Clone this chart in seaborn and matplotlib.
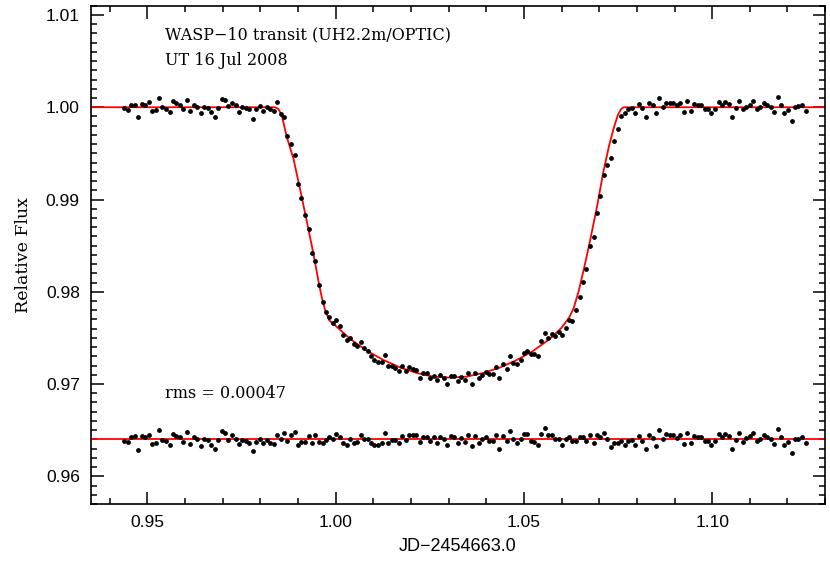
import numpy as np
import pandas as pd
import matplotlib
matplotlib.use("Agg")
import matplotlib.pyplot as plt
import seaborn as sns
from matplotlib.ticker import MultipleLocator, FormatStrFormatter

# observation times (JD - 2454663.0)
times = [
    0.9439, 0.9448, 0.9457, 0.9466, 0.9475, 0.9485, 0.9494, 0.9503, 0.9512, 0.9522,
    0.9531, 0.9540, 0.9549, 0.9559, 0.9568, 0.9577, 0.9586, 0.9595, 0.9605, 0.9614,
    0.9623, 0.9632, 0.9642, 0.9651, 0.9660, 0.9669, 0.9679, 0.9688, 0.9697, 0.9706,
    0.9715, 0.9725, 0.9734, 0.9743, 0.9752, 0.9762, 0.9771, 0.9780, 0.9789, 0.9798,
    0.9808, 0.9817, 0.9826, 0.9835, 0.9845, 0.9854, 0.9863, 0.9872, 0.9882, 0.9891,
    0.9900, 0.9909, 0.9918, 0.9928, 0.9937, 0.9946, 0.9955, 0.9965, 0.9974, 0.9983,
    0.9992, 1.0002, 1.0011, 1.0020, 1.0029, 1.0038, 1.0048, 1.0057, 1.0066, 1.0075,
    1.0085, 1.0094, 1.0103, 1.0112, 1.0122, 1.0131, 1.0140, 1.0149, 1.0158, 1.0168,
    1.0177, 1.0186, 1.0195, 1.0205, 1.0214, 1.0223, 1.0232, 1.0242, 1.0251, 1.0260,
    1.0269, 1.0278, 1.0288, 1.0297, 1.0306, 1.0315, 1.0325, 1.0334, 1.0343, 1.0352,
    1.0362, 1.0371, 1.0380, 1.0389, 1.0398, 1.0408, 1.0417, 1.0426, 1.0435, 1.0445,
    1.0454, 1.0463, 1.0472, 1.0482, 1.0491, 1.0500, 1.0509, 1.0518, 1.0528, 1.0537,
    1.0546, 1.0555, 1.0565, 1.0574, 1.0583, 1.0592, 1.0602, 1.0611, 1.0620, 1.0629,
    1.0638, 1.0648, 1.0657, 1.0666, 1.0675, 1.0685, 1.0694, 1.0703, 1.0712, 1.0722,
    1.0731, 1.0740, 1.0749, 1.0758, 1.0768, 1.0777, 1.0786, 1.0795, 1.0805, 1.0814,
    1.0823, 1.0832, 1.0842, 1.0851, 1.0860, 1.0869, 1.0878, 1.0888, 1.0897, 1.0906,
    1.0915, 1.0925, 1.0934, 1.0943, 1.0952, 1.0962, 1.0971, 1.0980, 1.0989, 1.0998,
    1.1008, 1.1017, 1.1026, 1.1035, 1.1045, 1.1054, 1.1063, 1.1072, 1.1081, 1.1091,
    1.1100, 1.1109, 1.1118, 1.1128, 1.1137, 1.1146, 1.1155, 1.1165, 1.1174, 1.1183,
    1.1192, 1.1201, 1.1211, 1.1220, 1.1229, 1.1238, 1.1248,
]

# relative flux of WASP-10
flux = [
    0.99993, 0.99971, 1.00029, 1.00029, 0.99892, 1.00036, 1.00029, 1.00054, 0.99964, 0.99971,
    1.00101, 1.00007, 0.99982, 0.99949, 1.00065, 1.00043, 1.00022, 0.99978, 1.00079, 0.99957,
    1.00022, 1.00000, 0.99935, 1.00000, 0.99993, 0.99946, 0.99899, 0.99993, 1.00094, 1.00079,
    1.00014, 1.00051, 1.00022, 0.99949, 1.00007, 0.99993, 0.99978, 0.99877, 0.99978, 1.00014,
    0.99964, 1.00007, 0.99978, 0.99964, 1.00054, 0.99928, 0.99899, 0.99690, 0.99601, 0.99484,
    0.99170, 0.99018, 0.98827, 0.98683, 0.98418, 0.98332, 0.98074, 0.97892, 0.97783, 0.97732,
    0.97660, 0.97689, 0.97624, 0.97530, 0.97472, 0.97501, 0.97429, 0.97415, 0.97458, 0.97386,
    0.97357, 0.97299, 0.97256, 0.97234, 0.97242, 0.97313, 0.97191, 0.97198, 0.97177, 0.97140,
    0.97191, 0.97140, 0.97183, 0.97162, 0.97147, 0.97068, 0.97118, 0.97118, 0.97061, 0.97090,
    0.97039, 0.97096, 0.97068, 0.96996, 0.97090, 0.97090, 0.97031, 0.97075, 0.97039, 0.97118,
    0.97003, 0.97118, 0.97061, 0.97096, 0.97126, 0.97104, 0.97111, 0.97183, 0.97061, 0.97212,
    0.97162, 0.97299, 0.97227, 0.97212, 0.97263, 0.97335, 0.97357, 0.97321, 0.97321, 0.97306,
    0.97465, 0.97551, 0.97501, 0.97537, 0.97523, 0.97567, 0.97530, 0.97610, 0.97689, 0.97680,
    0.97800, 0.97942, 0.98108, 0.98245, 0.98498, 0.98599, 0.98859, 0.99033, 0.99263, 0.99372,
    0.99452, 0.99639, 0.99769, 0.99907, 0.99935, 0.99986, 0.99993, 0.99935, 1.00037, 0.99993,
    0.99899, 1.00043, 1.00022, 0.99935, 1.00101, 1.00007, 1.00051, 1.00043, 1.00051, 1.00022,
    1.00051, 0.99949, 1.00072, 0.99957, 1.00036, 1.00022, 1.00029, 0.99978, 0.99978, 0.99935,
    0.99978, 1.00058, 1.00022, 1.00058, 1.00036, 0.99899, 0.99993, 1.00072, 0.99978, 1.00007,
    1.00029, 1.00065, 0.99978, 1.00000, 1.00051, 1.00022, 1.00007, 0.99949, 1.00108, 1.00022,
    0.99935, 0.99971, 0.99856, 1.00007, 1.00014, 1.00029, 0.99957,
]

# residuals, plotted around the 0.964 level
resid = [
    0.96386, 0.96371, 0.96429, 0.96436, 0.96284, 0.96436, 0.96422, 0.96443, 0.96349, 0.96364,
    0.96501, 0.96393, 0.96378, 0.96342, 0.96458, 0.96436, 0.96422, 0.96371, 0.96479, 0.96349,
    0.96422, 0.96400, 0.96328, 0.96400, 0.96393, 0.96335, 0.96299, 0.96393, 0.96494, 0.96472,
    0.96393, 0.96443, 0.96407, 0.96349, 0.96393, 0.96386, 0.96364, 0.96270, 0.96371, 0.96407,
    0.96357, 0.96393, 0.96364, 0.96349, 0.96451, 0.96407, 0.96465, 0.96378, 0.96443, 0.96479,
    0.96335, 0.96371, 0.96371, 0.96436, 0.96357, 0.96451, 0.96371, 0.96357, 0.96393, 0.96429,
    0.96407, 0.96458, 0.96422, 0.96364, 0.96342, 0.96400, 0.96364, 0.96371, 0.96451, 0.96407,
    0.96400, 0.96364, 0.96342, 0.96342, 0.96364, 0.96465, 0.96364, 0.96393, 0.96393, 0.96364,
    0.96436, 0.96393, 0.96451, 0.96443, 0.96443, 0.96371, 0.96429, 0.96429, 0.96378, 0.96429,
    0.96364, 0.96429, 0.96400, 0.96335, 0.96436, 0.96429, 0.96364, 0.96414, 0.96371, 0.96443,
    0.96328, 0.96436, 0.96364, 0.96407, 0.96422, 0.96378, 0.96386, 0.96443, 0.96299, 0.96436,
    0.96378, 0.96494, 0.96400, 0.96364, 0.96407, 0.96458, 0.96458, 0.96386, 0.96371, 0.96335,
    0.96458, 0.96523, 0.96443, 0.96443, 0.96407, 0.96407, 0.96342, 0.96400, 0.96429, 0.96378,
    0.96378, 0.96422, 0.96422, 0.96378, 0.96451, 0.96364, 0.96443, 0.96422, 0.96472, 0.96400,
    0.96313, 0.96357, 0.96357, 0.96378, 0.96342, 0.96386, 0.96393, 0.96335, 0.96436, 0.96386,
    0.96299, 0.96443, 0.96414, 0.96328, 0.96501, 0.96407, 0.96458, 0.96443, 0.96451, 0.96414,
    0.96443, 0.96349, 0.96465, 0.96357, 0.96436, 0.96422, 0.96429, 0.96378, 0.96378, 0.96335,
    0.96378, 0.96458, 0.96422, 0.96458, 0.96436, 0.96299, 0.96393, 0.96472, 0.96371, 0.96414,
    0.96436, 0.96465, 0.96378, 0.96400, 0.96451, 0.96429, 0.96400, 0.96349, 0.96508, 0.96422,
    0.96335, 0.96371, 0.96256, 0.96400, 0.96407, 0.96429, 0.96357,
]

# transit model
model_t = [0.9350, 0.9839, 0.9848, 0.9857, 0.9870, 0.9888, 0.9905, 0.9923, 0.9941, 0.9954,
           0.9963, 0.9972, 0.9983, 1.0003, 1.0038, 1.0083, 1.0127, 1.0171, 1.0215, 1.0259,
           1.0304, 1.0348, 1.0392, 1.0437, 1.0481, 1.0525, 1.0569, 1.0600, 1.0620, 1.0632,
           1.0645, 1.0660, 1.0676, 1.0694, 1.0711, 1.0726, 1.0739, 1.0749, 1.0758, 1.0765,
           1.1300]
model_f = [1.0000, 1.0000, 0.9998, 0.9991, 0.9968, 0.9944, 0.9912, 0.9877, 0.9841, 0.9812,
           0.9794, 0.9780, 0.9769, 0.9762, 0.9749, 0.9736, 0.9726, 0.9718, 0.9712, 0.9708,
           0.9707, 0.9708, 0.9712, 0.9718, 0.9726, 0.9736, 0.9749, 0.9761, 0.9772, 0.9782,
           0.9800, 0.9826, 0.9856, 0.9892, 0.9930, 0.9958, 0.9978, 0.9991, 0.9998, 1.0000,
           1.0000]

resid_level = 0.964
resid_t = [0.9350, 1.1300]
resid_f = [resid_level, resid_level]

sns.set_style("ticks")
plt.rcParams['font.family'] = ['Liberation Sans', 'DejaVu Sans']
plt.rcParams['text.color'] = 'black'
plt.rcParams['axes.labelcolor'] = 'black'
plt.rcParams['xtick.color'] = 'black'
plt.rcParams['ytick.color'] = 'black'

fig = plt.figure(figsize=(8.3, 5.75), dpi=100)
ax = fig.add_axes([0.1096, 0.1235, 0.8845, 0.8665])

sns.lineplot(x=model_t, y=model_f, color='red', linewidth=1.3, ax=ax, zorder=1)
sns.lineplot(x=resid_t, y=resid_f, color='red', linewidth=1.3, ax=ax, zorder=1)
sns.scatterplot(x=times, y=flux, color='black', s=12, linewidth=0, ax=ax, zorder=2)
sns.scatterplot(x=times, y=resid, color='black', s=12, linewidth=0, ax=ax, zorder=2)

ax.set_xlim(0.935, 1.130)
ax.set_ylim(0.957, 1.011)

ax.xaxis.set_major_locator(MultipleLocator(0.05))
ax.xaxis.set_minor_locator(MultipleLocator(0.01))
ax.yaxis.set_major_locator(MultipleLocator(0.01))
ax.yaxis.set_minor_locator(MultipleLocator(0.001))
ax.xaxis.set_major_formatter(FormatStrFormatter('%.2f'))
ax.yaxis.set_major_formatter(FormatStrFormatter('%.2f'))

ax.tick_params(which='both', direction='in', top=True, right=True, width=1.1, colors='black')
ax.tick_params(which='major', length=9, labelsize=12.5, pad=8)
ax.tick_params(which='minor', length=4.5)
for sp in ax.spines.values():
    sp.set_linewidth(1.2)
    sp.set_color('black')

ax.set_xlabel('JD\u22122454663.0', fontsize=13, labelpad=6)
ax.set_ylabel('Relative Flux', fontsize=12.5, family='DejaVu Serif', labelpad=10)

ax.text(0.101, 0.941, 'WASP\u221210 transit (UH2.2m/OPTIC)', transform=ax.transAxes,
        fontsize=11.5, family='DejaVu Serif', va='center', ha='left')
ax.text(0.101, 0.891, 'UT 16 Jul 2008', transform=ax.transAxes,
        fontsize=11.5, family='DejaVu Serif', va='center', ha='left')
ax.text(0.101, 0.221, 'rms = 0.00047', transform=ax.transAxes,
        fontsize=11.5, family='DejaVu Serif', va='center', ha='left')

fig.savefig('out.png', dpi=100)
